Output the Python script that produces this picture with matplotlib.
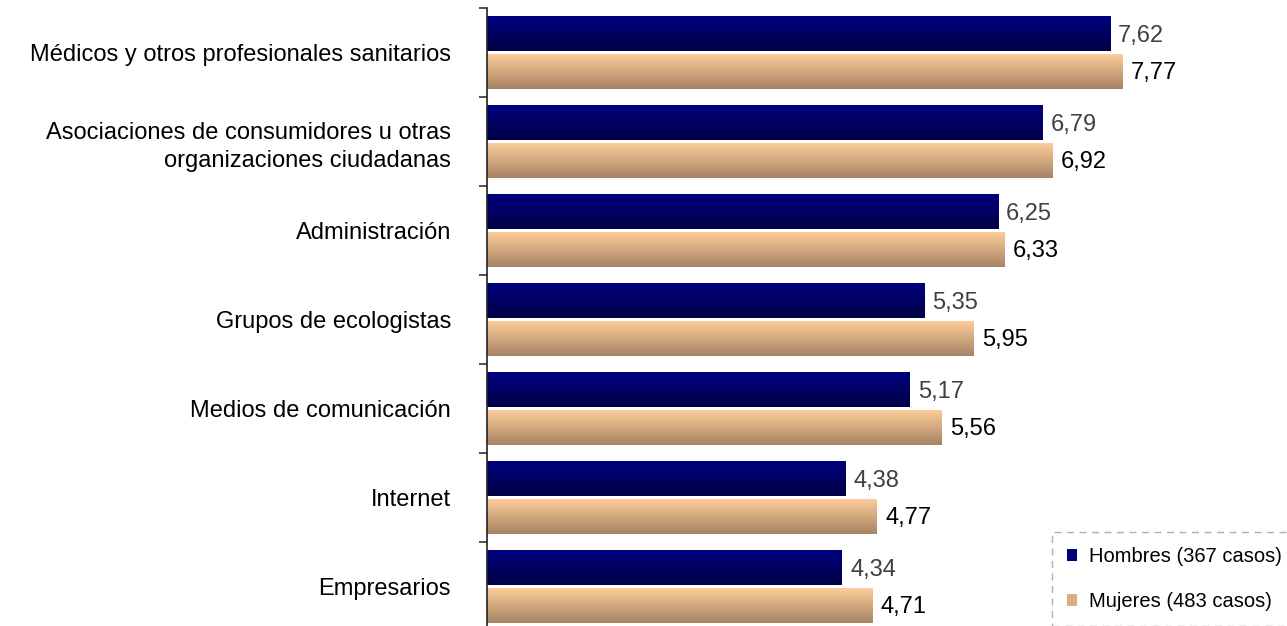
import matplotlib
matplotlib.use('Agg')
import matplotlib.pyplot as plt
import numpy as np
from matplotlib.patches import Patch
from matplotlib.colors import LinearSegmentedColormap

plt.rcParams['font.family'] = ['Liberation Sans', 'DejaVu Sans']

categorias = ["Médicos y otros profesionales sanitarios",
              "Asociaciones de consumidores u otras\norganizaciones ciudadanas",
              "Administración",
              "Grupos de ecologistas",
              "Medios de comunicación",
              "Internet",
              "Empresarios"]
hombres = [7.62, 6.79, 6.25, 5.35, 5.17, 4.38, 4.34]
mujeres = [7.77, 6.92, 6.33, 5.95, 5.56, 4.77, 4.71]
etiqueta_h = "Hombres (367 casos)"
etiqueta_m = "Mujeres (483 casos)"

cmap_h = LinearSegmentedColormap.from_list('h', ['#000080', '#000046'])
cmap_m = LinearSegmentedColormap.from_list('m', ['#FDCC99', '#A68464'])
grad = np.linspace(0, 1, 64).reshape(-1, 1)

fig = plt.figure(figsize=(12.87, 6.26), dpi=100)
ax = fig.add_axes([487/1287, 0, 800/1287, 618/626])

y = np.arange(len(categorias))
alto = 0.39
off = 0.21


def barras_grad(vals, yy, cmap):
    bars = ax.barh(yy, vals, height=alto, color='none', edgecolor='none')
    for b in bars:
        x0, y0 = b.get_x(), b.get_y()
        w, h = b.get_width(), b.get_height()
        ax.imshow(grad, cmap=cmap, aspect='auto', origin='upper',
                  extent=(x0, x0 + w, y0 + h, y0), zorder=2)
    return bars


barras_grad(hombres, y - off, cmap_h)
barras_grad(mujeres, y + off, cmap_m)

for i in range(len(categorias)):
    ax.text(hombres[i] + 0.1, y[i] - off + 0.02, f"{hombres[i]:.2f}".replace('.', ','),
            va='center', ha='left', fontsize=17, color='#404040')
    ax.text(mujeres[i] + 0.1, y[i] + off + 0.02, f"{mujeres[i]:.2f}".replace('.', ','),
            va='center', ha='left', fontsize=17, color='black')

ax.set_xlim(0, 800 / 81.76)
ax.set_ylim(-0.5 + 618 / 89, -0.5)

ax.set_yticks(y)
ax.set_yticklabels(categorias, fontsize=17, linespacing=1.35)
ax.set_yticks(np.arange(-0.5, len(categorias) - 1, 1), minor=True)
ax.tick_params(axis='y', which='major', length=0, pad=26)
ax.tick_params(axis='y', which='minor', length=6, width=1.2, color='#333333', direction='out')
ax.set_xticks([])
for s in ['top', 'right', 'bottom']:
    ax.spines[s].set_visible(False)
ax.spines['left'].set_color('#222222')
ax.spines['left'].set_linewidth(1.2)

handles = [Patch(facecolor='#000072', edgecolor='none', label=etiqueta_h),
           Patch(facecolor='#D9AE82', edgecolor='none', label=etiqueta_m)]
leg = fig.legend(handles=handles, loc='upper left',
                 bbox_to_anchor=(1052/1287, 1 - 532/626), borderaxespad=0,
                 fontsize=14.5, frameon=True, fancybox=False,
                 handlelength=0.5, handleheight=0.5, handletextpad=0.6,
                 labelspacing=1.3, borderpad=0.75)
fr = leg.get_frame()
fr.set_linestyle((0, (5, 4)))
fr.set_edgecolor('#9a9a9a')
fr.set_linewidth(1)

fig.savefig('out.png', dpi=100)
